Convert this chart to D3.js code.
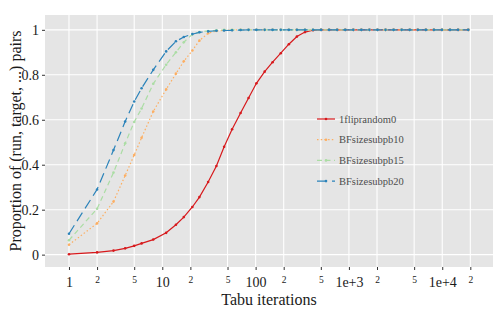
<!DOCTYPE html>
<html>
<head>
<meta charset="utf-8">
<script src="https://cdn.jsdelivr.net/npm/d3@7"></script>
<style>
  body { margin: 0; background: #fff; }
  svg, svg text { font-family: "Liberation Serif", "Times New Roman", serif; }
</style>
</head>
<body>
<div id="chart"></div>
<script>
// data
const iterations = [1, 2, 3, 4, 5, 6, 8, 11, 14, 17, 21, 25, 31, 38, 46, 56, 69, 84, 102, 125,
  152, 186, 227, 277, 338, 412, 503, 613, 748, 913, 1114, 1359, 1658, 2023, 2468, 3011,
  3673, 4481, 5467, 6670, 8137, 9928, 12112, 14777, 19000];

const flipRandom0 = [0.002, 0.010, 0.018, 0.028, 0.039, 0.050, 0.067, 0.097, 0.133, 0.167,
  0.212, 0.256, 0.323, 0.394, 0.480, 0.558, 0.630, 0.697, 0.762, 0.814, 0.856, 0.896,
  0.936, 0.970, 0.990, 0.998, 1, 1, 1, 1, 1, 1, 1, 1, 1, 1, 1, 1, 1, 1, 1, 1, 1, 1, 1];

const bfSub10 = [0.044, 0.139, 0.236, 0.352, 0.443, 0.520, 0.637, 0.735, 0.805, 0.860,
  0.908, 0.952, 0.985, 0.995, 0.998, 0.999, 1, 1, 1, 1, 1, 1, 1, 1, 1, 1, 1, 1, 1, 1,
  1, 1, 1, 1, 1, 1, 1, 1, 1, 1, 1, 1, 1, 1, 1];

const bfSub15 = [0.064, 0.204, 0.365, 0.495, 0.590, 0.650, 0.760, 0.845, 0.900, 0.945,
  0.980, 0.990, 0.995, 0.998, 1, 1, 1, 1, 1, 1, 1, 1, 1, 1, 1, 1, 1, 1, 1, 1,
  1, 1, 1, 1, 1, 1, 1, 1, 1, 1, 1, 1, 1, 1, 1];

const bfSub20 = [0.093, 0.290, 0.465, 0.592, 0.681, 0.740, 0.822, 0.904, 0.949, 0.968,
  0.981, 0.989, 0.993, 0.996, 0.997, 0.998, 0.999, 1, 1, 1, 1, 1, 1, 1, 1, 1, 1, 1, 1, 1,
  1, 1, 1, 1, 1, 1, 1, 1, 1, 1, 1, 1, 1, 1, 1];

const seriesNames = ["1fliprandom0", "BFsizesubpb10", "BFsizesubpb15", "BFsizesubpb20"];

const xTicks = [1, 2, 5, 10, 20, 50, 100, 200, 500, 1000, 2000, 5000, 10000, 20000];
const xTickLabels = ["1", "2", "5", "10", "2", "5", "100", "2", "5", "1e+3", "2", "5", "1e+4", "2"];
const yTicks = [0, 0.2, 0.4, 0.6, 0.8, 1];
const yTickLabels = ["0", "0.2", "0.4", "0.6", "0.8", "1"];

const width = 503, height = 309;
const panel = {left: 45, right: 493, top: 15, bottom: 267};

const styles = [
  {color: "#d7191c", dash: null},
  {color: "#fdae61", dash: "1.5,2.2"},
  {color: "#abdda4", dash: "5,3.5"},
  {color: "#2b83ba", dash: "10,5"}
];

const seriesValues = [flipRandom0, bfSub10, bfSub15, bfSub20];

const svg = d3.select("#chart").append("svg")
  .attr("width", width)
  .attr("height", height);

const x = d3.scaleLog()
  .domain([Math.pow(10, -0.257), Math.pow(10, 4.544)])
  .range([panel.left, panel.right]);

const y = d3.scaleLinear()
  .domain([-0.055, 1.066])
  .range([panel.bottom, panel.top]);

// panel background
svg.append("rect")
  .attr("x", panel.left).attr("y", panel.top)
  .attr("width", panel.right - panel.left)
  .attr("height", panel.bottom - panel.top)
  .attr("fill", "#e5e5e5");

// grid
const grid = svg.append("g").attr("stroke", "#fff").attr("stroke-width", 1.1);
grid.selectAll(".vx").data(xTicks).join("line")
  .attr("x1", d => x(d)).attr("x2", d => x(d))
  .attr("y1", panel.top).attr("y2", panel.bottom);
grid.selectAll(".hy").data(yTicks).join("line")
  .attr("y1", d => y(d)).attr("y2", d => y(d))
  .attr("x1", panel.left).attr("x2", panel.right);

const isMajor = lbl => /^(1|10|100|1e\+\d)$/.test(lbl);

// axes
const xAxis = svg.append("g")
  .attr("transform", `translate(0,${panel.bottom})`)
  .call(d3.axisBottom(x).tickValues(xTicks).tickSize(3).tickPadding(7)
    .tickFormat((d, i) => xTickLabels[i]));
xAxis.attr("font-family", null);
xAxis.select(".domain").remove();
xAxis.selectAll(".tick line").attr("stroke", "#333");
xAxis.selectAll(".tick text")
  .attr("fill", "#1a1a1a")
  .attr("font-size", (d, i) => isMajor(xTickLabels[i]) ? 14 : 9.5)
  .attr("dy", (d, i) => isMajor(xTickLabels[i]) ? "0.72em" : "0.62em");

const yAxis = svg.append("g")
  .attr("transform", `translate(${panel.left},0)`)
  .call(d3.axisLeft(y).tickValues(yTicks).tickSize(3).tickPadding(3)
    .tickFormat((d, i) => yTickLabels[i]));
yAxis.attr("font-family", null);
yAxis.select(".domain").remove();
yAxis.selectAll(".tick line").attr("stroke", "#333");
yAxis.selectAll(".tick text")
  .attr("fill", "#1a1a1a")
  .attr("font-size", 14);

// axis titles
svg.append("text")
  .attr("x", (panel.left + panel.right) / 2)
  .attr("y", 305)
  .attr("text-anchor", "middle")
  .attr("font-size", 16)
  .attr("fill", "#1a1a1a")
  .text("Tabu iterations");

svg.append("text")
  .attr("transform", `translate(15,${(panel.top + panel.bottom) / 2}) rotate(-90)`)
  .attr("text-anchor", "middle")
  .attr("dy", "0.35em")
  .attr("font-size", 16)
  .attr("fill", "#1a1a1a")
  .text("Proportion of (run, target, ...) pairs");

// series
const line = d3.line()
  .x(d => x(d[0]))
  .y(d => y(d[1]));

const plot = svg.append("g");
seriesValues.forEach((vals, s) => {
  const pts = iterations.map((it, i) => [it, vals[i]]);
  plot.append("path")
    .datum(pts)
    .attr("fill", "none")
    .attr("stroke", styles[s].color)
    .attr("stroke-width", 1.2)
    .attr("stroke-dasharray", styles[s].dash)
    .attr("d", line);
  plot.append("g")
    .selectAll("circle")
    .data(pts)
    .join("circle")
    .attr("cx", d => x(d[0]))
    .attr("cy", d => y(d[1]))
    .attr("r", 1.3)
    .attr("fill", styles[s].color);
});

// legend
const legend = svg.append("g").attr("transform", "translate(317,119)");
seriesNames.forEach((name, i) => {
  const gy = i * 20.7;
  const item = legend.append("g").attr("transform", `translate(0,${gy})`);
  item.append("line")
    .attr("x1", 0).attr("x2", 18)
    .attr("stroke", styles[i].color)
    .attr("stroke-width", 1.2)
    .attr("stroke-dasharray", styles[i].dash);
  item.append("circle")
    .attr("cx", 9).attr("r", 1.3)
    .attr("fill", styles[i].color);
  item.append("text")
    .attr("x", 22)
    .attr("dy", "0.35em")
    .attr("font-size", 10.5)
    .attr("fill", "#4d4d4d")
    .text(name);
});
</script>
</body>
</html>
